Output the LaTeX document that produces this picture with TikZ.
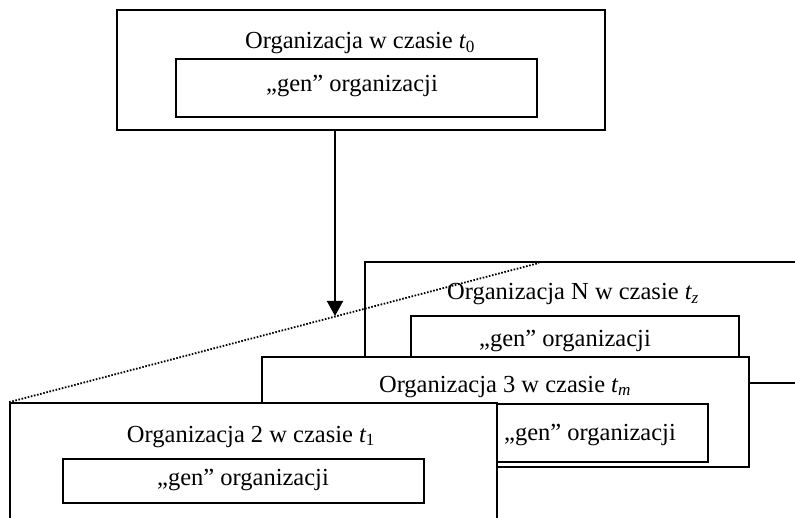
\documentclass[tikz,border=0pt]{standalone}
\usepackage{fontspec}
\setmainfont{Liberation Serif}
\usetikzlibrary{arrows.meta}
\tikzset{
  orgbox/.style={draw, fill=white, line width=1.7pt, inner sep=0pt, minimum width=#1},
  lbl/.style={anchor=base, inner sep=0pt, font=\fontsize{24.5}{28}\selectfont},
}
\newcommand{\tsub}[2]{{\itshape #1}\textsubscript{#2}}
\begin{document}
\begin{tikzpicture}[x=1pt,y=-1pt]
\useasboundingbox (0,0) rectangle (795,518);
\clip (0,0) rectangle (795,518);
% top organization
\node[orgbox=488pt, minimum height=120pt] (top) at (361,70) {};
\node[orgbox=361pt, minimum height=58pt] (gtop) at (356.5,88) {};
\node[lbl] (ttop) at (360,49) {Organizacja w czasie \tsub{t}{0}};
\node[lbl] (tgtop) at (352,92) {„gen” organizacji};
% organization N
\node[orgbox=435pt, minimum height=121pt] (bN) at (582.5,322.5) {};
\node[orgbox=328pt, minimum height=54pt] (gN) at (575,343) {};
\node[lbl] (tN) at (573,300) {Organizacja N w czasie \tsub{t}{\itshape z}};
\node[lbl] (tgN) at (565,347) {„gen” organizacji};
% dotted line end
\coordinate (dotend) at (539,263);
% organization 3
\node[orgbox=487pt, minimum height=110pt] (b3) at (505.5,412) {};
\node[orgbox=236pt, minimum height=58pt] (g3) at (590,433) {};
\node[lbl] (t3) at (505,392) {Organizacja 3 w czasie \tsub{t}{\itshape m}};
\node[lbl] (tg3) at (590,440) {„gen” organizacji};
% organization 2
\node[orgbox=487pt, minimum height=122pt] (b2) at (253.5,464) {};
\node[orgbox=361pt, minimum height=44pt] (g2) at (243.5,481) {};
\node[lbl] (t2) at (251,442) {Organizacja 2 w czasie \tsub{t}{1}};
\node[lbl] (tg2) at (243,485) {„gen” organizacji};
% dotted connector (over box N)
\draw[line width=1.8pt, dash pattern=on 1.6pt off 1.6pt] (b2.north west) -- (dotend);
% arrow
\coordinate (tip) at (335,316);
\draw[line width=1.7pt, -{Triangle[width=16pt,length=15pt]}] (tip |- top.south) -- (tip);
\end{tikzpicture}
\end{document}
